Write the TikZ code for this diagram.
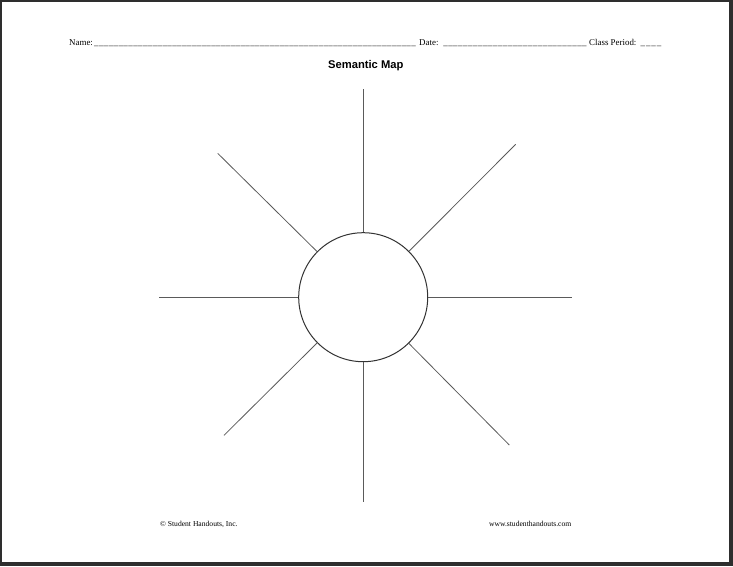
\documentclass[tikz,border=0pt]{standalone}
\usepackage{fontspec}
\setmainfont{Liberation Serif}
\newfontfamily\titlefont{Liberation Sans}
\definecolor{framecol}{HTML}{2E2E2E}
\definecolor{spokecol}{HTML}{5A5A5A}
\definecolor{ringcol}{HTML}{333333}
\newcommand\blankrule[1]{\makebox[#1][s]{\xleaders\hbox{\_\kern0.4pt}\hfill}}
\begin{document}
\begin{tikzpicture}[x=1pt,y=-1pt,
  spoke/.style={draw=spokecol, line width=0.8pt},
  ring/.style={draw=ringcol, line width=1pt, circle, minimum size=129pt, inner sep=0pt},
  hdr/.style={anchor=base west, inner sep=0pt, font=\fontsize{8.9}{10}\selectfont},
  foot/.style={inner sep=0pt, font=\fontsize{7.6}{9}\selectfont}]
\fill[framecol] (0,0) rectangle (733,566);
\fill[white] (2,2) rectangle (729,562);
\useasboundingbox (0,0) rectangle (733,566);
% header
\node[hdr] (name) at (69,45.5) {Name:};
\node[hdr] (nameline) at (94,45.5) {\blankrule{322pt}};
\node[hdr] (date) at (419,45.5) {Date:};
\node[hdr] (dateline) at (443,45.5) {\blankrule{144pt}};
\node[hdr] (period) at (589,45.5) {Class Period:};
\node[hdr] (periodline) at (640,45.5) {\blankrule{22pt}};
% title
\node[anchor=base, inner sep=0pt, font=\titlefont\bfseries\fontsize{11.2}{13}\selectfont] (title) at (365.8,68.7) {Semantic Map};
% map
\node[ring] (c) at (363.2,297.2) {};
\coordinate (top) at (363.2,89);
\coordinate (bottom) at (363.2,501.7);
\coordinate (left) at (159,297.2);
\coordinate (right) at (572.3,297.2);
\coordinate (ul) at (217.7,153.3);
\coordinate (ur) at (515.7,144.3);
\coordinate (ll) at (224,435.3);
\coordinate (lr) at (509.3,445);
\foreach \p in {top,bottom,left,right,ul,ur,ll,lr}
  \draw[spoke] (c) -- (\p);
% footer
\node[foot, anchor=base west] (copy) at (160,526.3) {© Student Handouts, Inc.};
\node[foot, anchor=base east] (web) at (571.5,526.3) {www.studenthandouts.com};
\end{tikzpicture}
\end{document}
